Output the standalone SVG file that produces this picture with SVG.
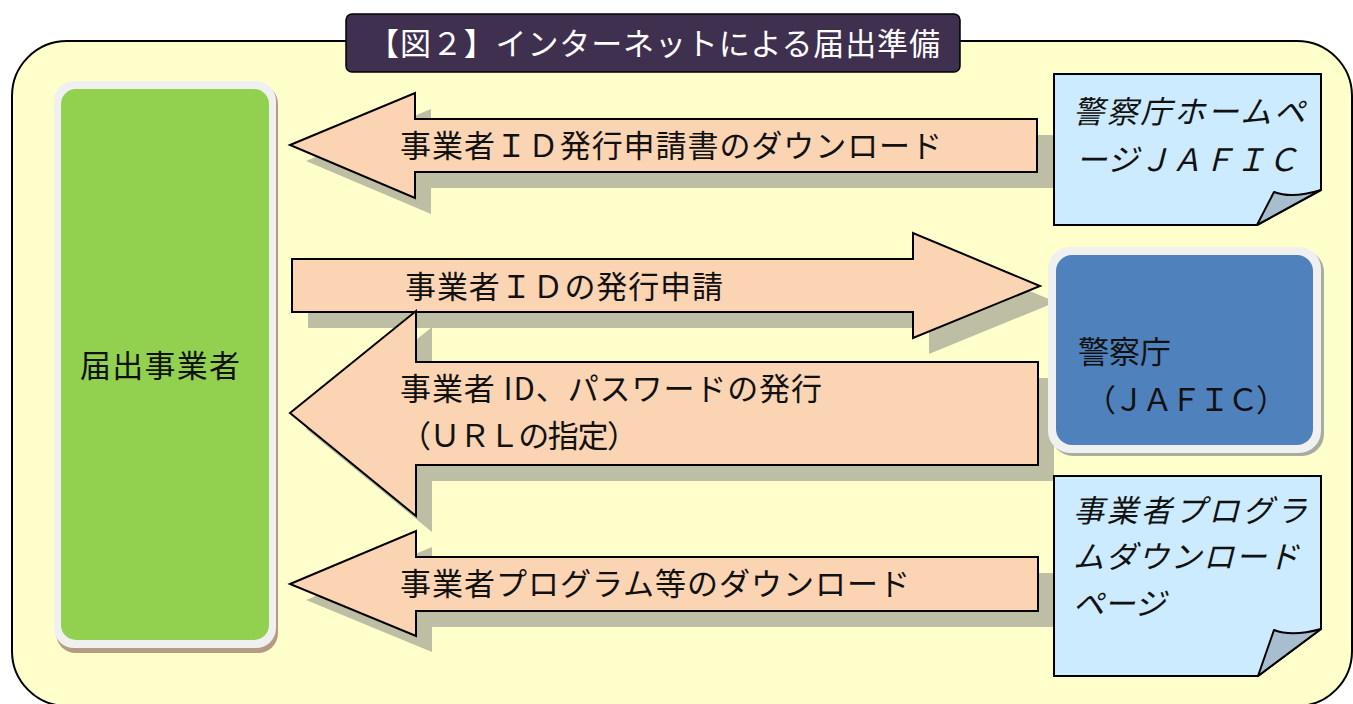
<svg xmlns="http://www.w3.org/2000/svg" width="1353" height="704" viewBox="0 0 1353 704">
<style>
text{font-family:"Noto Sans CJK JP","Noto Sans",sans-serif;fill:#111;}
.lbl{font-size:31px;}
.note{font-size:31px;font-style:italic;}
.arrow{fill:#FBD4B4;stroke:#000;stroke-width:2;stroke-linejoin:miter;}
.ash{fill:#BEBEA4;}
.notebg{fill:#CCEBFE;stroke:#000;stroke-width:2;}
.flap{fill:#A8BDCD;stroke:#000;stroke-width:2;stroke-linejoin:round;}
</style>
<rect width="1353" height="704" fill="#fff"/>
<g id="container">
<rect x="12" y="41" width="1340" height="665" rx="55" fill="#FFFFCC" stroke="#000" stroke-width="2"/>
</g>
<g id="title">
<rect x="346" y="14" width="614" height="58" rx="6" fill="#3F3050" stroke="#000" stroke-width="1.5"/>
<text x="368" y="55" style="fill:#fff;font-size:31px" textLength="572" lengthAdjust="spacing">【図２】インターネットによる届出準備</text>
</g>
<g id="connectors">
<g id="arrow-download-form">
<polygon class="ash" transform="translate(16,16)" points="290,145 415,93 415,119 1037,119 1037,172 415,172 415,198"/>
<polygon class="arrow" points="290,145 415,93 415,119 1037,119 1037,172 415,172 415,198"/>
<text class="lbl" x="400" y="157" textLength="542" lengthAdjust="spacing">事業者ＩＤ発行申請書のダウンロード</text>
</g>
<g id="arrow-request">
<polygon class="ash" transform="translate(16,16)" points="292,259 913,259 913,233 1040,286 913,338 913,312 292,312"/>
<polygon class="arrow" points="292,259 913,259 913,233 1040,286 913,338 913,312 292,312"/>
<text class="lbl" x="405" y="298" textLength="318" lengthAdjust="spacing">事業者ＩＤの発行申請</text>
</g>
<g id="arrow-issue">
<polygon class="ash" transform="translate(16,16)" points="290,413 416,311 416,362 1038,362 1038,465 416,465 416,516"/>
<polygon class="arrow" points="290,413 416,311 416,362 1038,362 1038,465 416,465 416,516"/>
<text class="lbl" x="400" y="400" textLength="422" lengthAdjust="spacing">事業者 ID、パスワードの発行</text>
<text class="lbl" x="400" y="447" textLength="238" lengthAdjust="spacing">（ＵＲＬの指定）</text>
</g>
<g id="arrow-program">
<polygon class="ash" transform="translate(16,16)" points="290,584 416,531 416,557 1038,557 1038,611 416,611 416,636"/>
<polygon class="arrow" points="290,584 416,531 416,557 1038,557 1038,611 416,611 416,636"/>
<text class="lbl" x="400" y="595" textLength="510" lengthAdjust="spacing">事業者プログラム等のダウンロード</text>
</g>
</g>
<g id="node-applicant">
<rect x="56" y="84" width="222" height="569" rx="20" fill="#B59A84"/>
<rect x="54" y="81" width="222" height="567" rx="20" fill="#F0F0F0"/>
<rect x="61" y="89" width="208" height="551" rx="15" fill="#92D050"/>
<text class="lbl" x="80" y="377" textLength="160" lengthAdjust="spacing">届出事業者</text>
</g>
<g id="node-jafic">
<rect x="1051" y="250" width="273" height="206" rx="22" fill="#A6ADA0"/>
<rect x="1048" y="247" width="273" height="206" rx="22" fill="#F0F0F0"/>
<rect x="1056" y="255" width="257" height="190" rx="16" fill="#4F81BD"/>
<text class="lbl" x="1078" y="363">警察庁</text>
<text class="lbl" x="1085" y="411" textLength="202" lengthAdjust="spacing">（ＪＡＦＩＣ）</text>
</g>
<g id="note-homepage">
<polygon class="notebg" points="1054,74 1321,74 1321,190 1257,225 1054,225"/>
<path class="flap" d="M1257,225 L1274,192 Q1292,199 1321,190 Z"/>
<text class="note" x="1073" y="123" textLength="232" lengthAdjust="spacing">警察庁ホームペ</text>
<text class="note" x="1076" y="171" textLength="222" lengthAdjust="spacing">ージＪＡＦＩＣ</text>
</g>
<g id="note-program">
<polygon class="notebg" points="1054,476 1321,476 1321,629 1258,676 1054,676"/>
<path class="flap" d="M1258,676 L1274,630 Q1292,637 1321,629 Z"/>
<text class="note" x="1073" y="522" textLength="234" lengthAdjust="spacing">事業者プログラ</text>
<text class="note" x="1073" y="568" textLength="226" lengthAdjust="spacing">ムダウンロード</text>
<text class="note" x="1073" y="615">ページ</text>
</g>
</svg>
